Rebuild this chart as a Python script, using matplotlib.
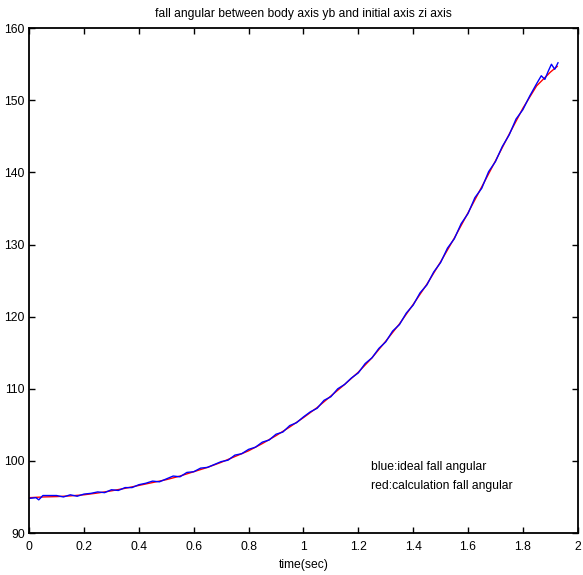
import matplotlib
matplotlib.use("Agg")
import matplotlib.pyplot as plt
import numpy as np

plt.rcParams['font.family'] = ['Liberation Sans', 'DejaVu Sans']

# calculated (red) curve
t_red = [0.00, 0.05, 0.10, 0.15, 0.20, 0.25, 0.30, 0.35, 0.40, 0.45, 0.50, 0.55,
         0.60, 0.65, 0.70, 0.75, 0.80, 0.85, 0.90, 0.95, 1.00, 1.05, 1.10, 1.15,
         1.20, 1.25, 1.30, 1.35, 1.40, 1.45, 1.50, 1.55, 1.60, 1.65, 1.70, 1.75,
         1.80, 1.85, 1.90, 1.925]
v_red = [94.9, 95.0, 95.05, 95.15, 95.3, 95.55, 95.85, 96.2, 96.6, 97.0, 97.4, 97.9,
         98.5, 99.1, 99.8, 100.6, 101.4, 102.4, 103.5, 104.7, 106.0, 107.4, 109.0, 110.6,
         112.3, 114.3, 116.6, 119.0, 121.7, 124.5, 127.6, 130.9, 134.4, 138.0, 141.6, 145.3,
         148.9, 152.0, 153.9, 154.7]

# ideal (blue) curve
t_blue = [0.000, 0.025, 0.035, 0.050, 0.075, 0.100, 0.125, 0.150, 0.175, 0.200, 0.225,
          0.250, 0.275, 0.300, 0.325, 0.350, 0.375, 0.400, 0.425, 0.450, 0.475,
          0.500, 0.525, 0.550, 0.575, 0.600, 0.625, 0.650, 0.675, 0.700, 0.725,
          0.750, 0.775, 0.800, 0.825, 0.850, 0.875, 0.900, 0.925, 0.950, 0.975,
          1.000, 1.025, 1.050, 1.075, 1.100, 1.125, 1.150, 1.175, 1.200, 1.225,
          1.250, 1.275, 1.300, 1.325, 1.350, 1.375, 1.400, 1.425, 1.450, 1.475,
          1.500, 1.525, 1.550, 1.575, 1.600, 1.625, 1.650, 1.675, 1.700, 1.725,
          1.750, 1.775, 1.800, 1.825, 1.850, 1.867, 1.880, 1.892, 1.904, 1.916, 1.928]
v_blue = [94.8, 94.9, 94.6, 95.2, 95.2, 95.2, 95.0, 95.3, 95.1, 95.4, 95.5,
          95.7, 95.6, 96.0, 95.9, 96.3, 96.3, 96.7, 96.9, 97.2, 97.1,
          97.5, 97.9, 97.8, 98.4, 98.5, 99.0, 99.1, 99.5, 99.9, 100.1,
          100.8, 101.0, 101.6, 101.9, 102.6, 102.9, 103.7, 104.0, 104.9, 105.3,
          106.1, 106.8, 107.3, 108.4, 108.9, 110.0, 110.6, 111.5, 112.2, 113.5,
          114.3, 115.6, 116.5, 118.0, 118.9, 120.5, 121.6, 123.3, 124.4, 126.2,
          127.5, 129.5, 130.8, 132.9, 134.3, 136.5, 137.8, 140.1, 141.5, 143.6,
          145.2, 147.4, 148.7, 150.6, 152.3, 153.4, 152.9, 154.0, 155.0, 154.3, 155.2]

x_ticks = [0, 0.2, 0.4, 0.6, 0.8, 1, 1.2, 1.4, 1.6, 1.8, 2]
x_ticklabels = ['0', '0.2', '0.4', '0.6', '0.8', '1', '1.2', '1.4', '1.6', '1.8', '2']
y_ticks = [90, 100, 110, 120, 130, 140, 150, 160]

fs = 8.7

fig = plt.figure(figsize=(5.83, 5.75), dpi=100)
ax = fig.add_axes([0.050, 0.073, 0.941, 0.878])

ax.plot(t_red, v_red, color='red', lw=1.0)
ax.plot(t_blue, v_blue, color='blue', lw=1.0)

ax.set_xlim(0, 2)
ax.set_ylim(90, 160)
ax.set_xticks(x_ticks)
ax.set_xticklabels(x_ticklabels)
ax.set_yticks(y_ticks)
ax.tick_params(direction='in', top=True, right=True, length=4, width=1,
               labelsize=fs)
ax.tick_params(axis='x', pad=6)
ax.tick_params(axis='y', pad=3)
for s in ax.spines.values():
    s.set_linewidth(1.3)

ax.set_title('fall angular between body axis yb and initial axis zi axis',
             fontsize=fs, pad=8)
ax.set_xlabel('time(sec)', fontsize=fs, labelpad=4)

ax.text(1.248, 99.1, 'blue:ideal fall angular', fontsize=fs, va='center')
ax.text(1.248, 96.5, 'red:calculation fall angular', fontsize=fs, va='center')

fig.savefig('out.png', dpi=100)
